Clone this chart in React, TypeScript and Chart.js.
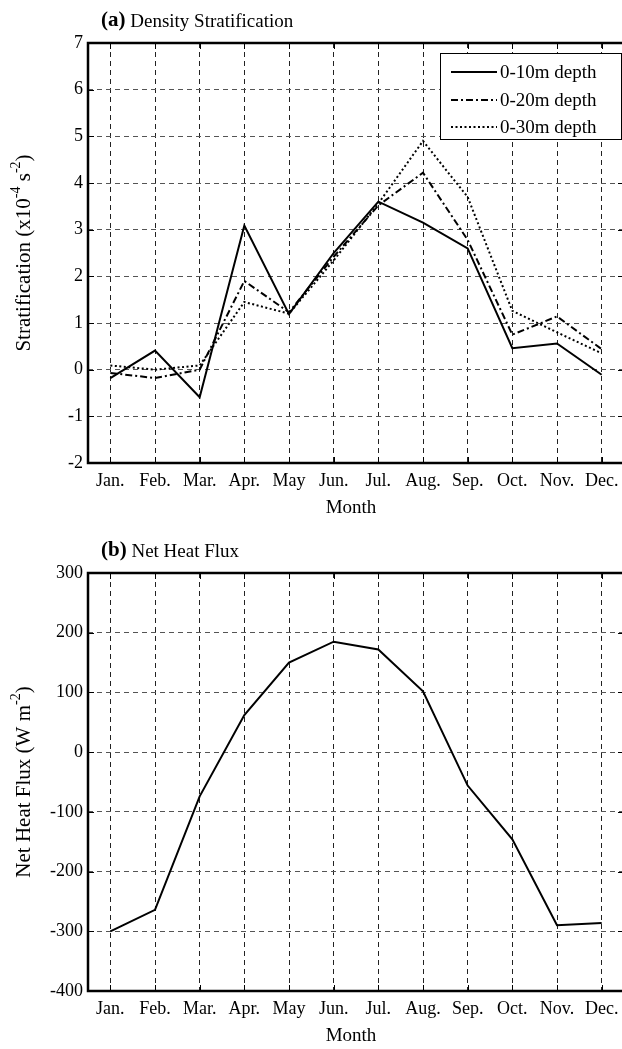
import React, { useEffect, useRef } from 'react';
import { Chart, registerables } from 'chart.js';

Chart.register(...registerables);

// ---- data ----
const months = ['Jan.', 'Feb.', 'Mar.', 'Apr.', 'May', 'Jun.', 'Jul.', 'Aug.', 'Sep.', 'Oct.', 'Nov.', 'Dec.'];
const strat10m = [-0.18, 0.41, -0.59, 3.09, 1.19, 2.5, 3.6, 3.15, 2.6, 0.46, 0.56, -0.11];
const strat20m = [-0.07, -0.18, 0.0, 1.9, 1.23, 2.42, 3.52, 4.22, 2.78, 0.75, 1.14, 0.44];
const strat30m = [0.09, 0.0, 0.09, 1.45, 1.2, 2.34, 3.56, 4.9, 3.7, 1.26, 0.8, 0.35];
const heatFlux = [-300, -264, -74, 62, 150, 185, 172, 102, -56, -146, -290, -286];
const stratLabels = ['0-10m depth', '0-20m depth', '0-30m depth'];
const stratRange = [-2, 7, 1];
const fluxRange = [-400, 300, 100];

const FONT = '"Liberation Serif", "Times New Roman", serif';
const DASHES: number[][] = [[], [7, 3, 2, 3], [2, 2.5]];

type Panel = {
  tag: string;
  title: string;
  yTitle: string;
  ySup: string;
  yTail: string;
  yTitle2?: string;
  ySup2?: string;
  legend: boolean;
  axisH: number;
};

function makePlugin(p: Panel) {
  return {
    id: 'panelDeco',
    afterDraw(chart: any) {
      const ctx = chart.ctx as CanvasRenderingContext2D;
      const { left, top, right, bottom } = chart.chartArea;
      const xs = chart.scales.x;
      const ys = chart.scales.y;
      ctx.save();
      // inner ticks
      ctx.strokeStyle = '#000';
      ctx.lineWidth = 1;
      ctx.setLineDash([]);
      ctx.beginPath();
      xs.ticks.forEach((_t: any, i: number) => {
        const x = Math.round(xs.getPixelForTick(i)) + 0.5;
        ctx.moveTo(x, bottom);
        ctx.lineTo(x, bottom - 6);
        ctx.moveTo(x, top);
        ctx.lineTo(x, top + 6);
      });
      ys.ticks.forEach((t: any) => {
        const y = Math.round(ys.getPixelForValue(t.value)) + 0.5;
        ctx.moveTo(left, y);
        ctx.lineTo(left + 6, y);
        ctx.moveTo(right, y);
        ctx.lineTo(right - 6, y);
      });
      ctx.stroke();

      // legend
      if (p.legend) {
        const bx = 440, by = 53, bw = 181, bh = 86;
        ctx.fillStyle = '#fff';
        ctx.fillRect(bx, by, bw, bh);
        ctx.strokeStyle = '#000';
        ctx.lineWidth = 1;
        ctx.strokeRect(bx + 0.5, by + 0.5, bw, bh);
        const rows = [72, 100, 127];
        ctx.font = `19px ${FONT}`;
        ctx.textBaseline = 'middle';
        ctx.textAlign = 'left';
        stratLabels.forEach((lab, i) => {
          ctx.lineWidth = 2;
          ctx.setLineDash(DASHES[i]);
          ctx.beginPath();
          ctx.moveTo(451, rows[i]);
          ctx.lineTo(497, rows[i]);
          ctx.stroke();
          ctx.setLineDash([]);
          ctx.fillStyle = '#000';
          ctx.fillText(lab, 500, rows[i] + 1);
        });
      }

      // frame
      ctx.setLineDash([]);
      ctx.strokeStyle = '#000';
      ctx.lineWidth = 2.5;
      ctx.strokeRect(left, top, right - left, bottom - top);

      // panel title
      ctx.fillStyle = '#000';
      ctx.textBaseline = 'middle';
      ctx.textAlign = 'left';
      ctx.font = `bold 21px ${FONT}`;
      ctx.fillText(p.tag, 101, 21);
      const w = ctx.measureText(p.tag).width;
      ctx.font = `19px ${FONT}`;
      ctx.fillText(' ' + p.title, 101 + w, 22);

      // x axis title
      ctx.textAlign = 'center';
      ctx.font = `19px ${FONT}`;
      ctx.fillText('Month', (left + 622) / 2 - 4, bottom + 45);

      // y axis title with superscripts
      const parts: [string, boolean][] = [[p.yTitle, false], [p.ySup, true]];
      if (p.yTitle2 !== undefined) parts.push([p.yTitle2, false]);
      if (p.ySup2 !== undefined) parts.push([p.ySup2, true]);
      parts.push([p.yTail, false]);
      const normal = `21px ${FONT}`;
      const small = `14px ${FONT}`;
      let total = 0;
      parts.forEach(([s, sup]) => {
        ctx.font = sup ? small : normal;
        total += ctx.measureText(s).width;
      });
      ctx.translate(24, (top + bottom) / 2);
      ctx.rotate(-Math.PI / 2);
      ctx.textAlign = 'left';
      let cx = -total / 2;
      parts.forEach(([s, sup]) => {
        ctx.font = sup ? small : normal;
        ctx.fillText(s, cx, sup ? -8 : 0);
        cx += ctx.measureText(s).width;
      });
      ctx.restore();
    },
  };
}

function PanelChart({ panel, datasets, range, top }: { panel: Panel; datasets: any[]; range: number[]; top: number }) {
  const ref = useRef<HTMLCanvasElement | null>(null);
  useEffect(() => {
    if (!ref.current) return;
    const tickFont = { family: FONT, size: 18 };
    const chart = new Chart(ref.current, {
      type: 'line',
      data: { labels: months, datasets },
      options: {
        responsive: false,
        animation: false,
        devicePixelRatio: 1,
        layout: { padding: { top: 43, right: 16, bottom: 0, left: 0 } },
        plugins: { legend: { display: false }, tooltip: { enabled: false }, title: { display: false } },
        elements: { point: { radius: 0 }, line: { tension: 0 } },
        scales: {
          x: {
            type: 'category',
            offset: true,
            grid: { offset: false, color: '#222', lineWidth: 1, drawTicks: false },
            border: { display: false, dash: [5, 4] },
            ticks: { color: '#000', font: tickFont, padding: 7, maxRotation: 0, autoSkip: false },
            afterFit: (s: any) => {
              s.height = panel.axisH;
            },
          },
          y: {
            min: range[0],
            max: range[1],
            ticks: { stepSize: range[2], color: '#000', font: tickFont, padding: 5 },
            grid: { color: '#555', lineWidth: 1, drawTicks: false },
            border: { display: false, dash: [5, 4] },
            afterFit: (s: any) => {
              s.width = 88;
            },
          },
        },
      } as any,
      plugins: [makePlugin(panel)],
    });
    return () => chart.destroy();
  }, []);
  return (
    <canvas
      ref={ref}
      width={640}
      height={530}
      style={{ position: 'absolute', left: 0, top, width: 640, height: 530 }}
    />
  );
}

const lineStyle = (data: number[], dash: number[]) => ({
  data,
  borderColor: '#000',
  borderWidth: 2,
  borderDash: dash,
  pointRadius: 0,
  fill: false,
});

export default function App() {
  const panelA: Panel = {
    tag: '(a)',
    title: 'Density Stratification',
    yTitle: 'Stratification (x10',
    ySup: '-4',
    yTitle2: ' s',
    ySup2: '-2',
    yTail: ')',
    legend: true,
    axisH: 67,
  };
  const panelB: Panel = {
    tag: '(b)',
    title: 'Net Heat Flux',
    yTitle: 'Net Heat Flux (W m',
    ySup: '-2',
    yTail: ')',
    legend: false,
    axisH: 69,
  };
  return (
    <div
      style={{
        position: 'absolute',
        left: 0,
        top: 0,
        width: 622,
        height: 1049,
        overflow: 'hidden',
        background: '#fff',
      }}
    >
      <PanelChart
        panel={panelA}
        range={stratRange}
        top={0}
        datasets={[
          lineStyle(strat10m, DASHES[0]),
          lineStyle(strat20m, DASHES[1]),
          lineStyle(strat30m, DASHES[2]),
        ]}
      />
      <PanelChart panel={panelB} range={fluxRange} top={530} datasets={[lineStyle(heatFlux, DASHES[0])]} />
    </div>
  );
}
